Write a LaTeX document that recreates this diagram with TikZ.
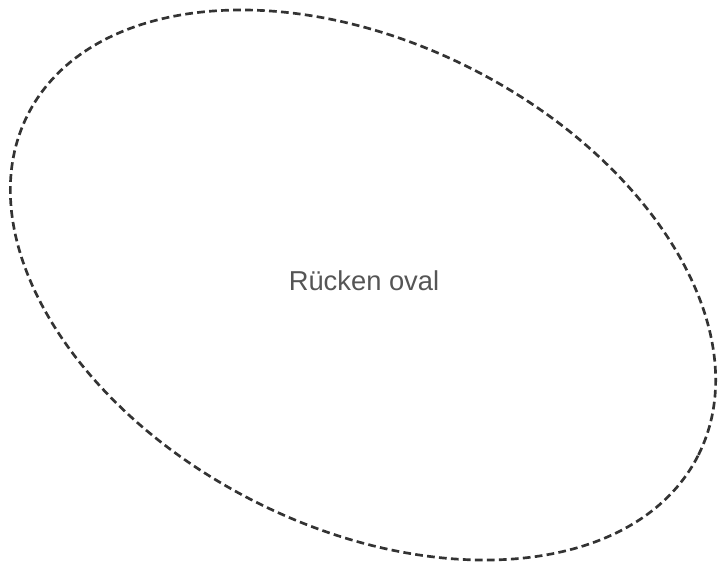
\documentclass[tikz,border=0pt]{standalone}
\usepackage{fontspec}
\setmainfont{Liberation Sans}
\definecolor{linegray}{HTML}{333333}
\definecolor{textgray}{HTML}{555555}
\tikzset{
  ovalline/.style={draw=linegray, line width=2pt, dash pattern=on 5.8pt off 3.2pt},
  ovaltext/.style={text=textgray, font=\fontsize{20.5}{24}\selectfont}
}
\begin{document}
\begin{tikzpicture}[x=0.75pt,y=-0.75pt]
\useasboundingbox (0,0) rectangle (723,565);
\draw[ovalline, rotate around={-27:(363,285)}] (363,285) ellipse [x radius=376, y radius=242];
\node[ovaltext] (label) at (364,281) {Rücken oval};
\end{tikzpicture}
\end{document}
